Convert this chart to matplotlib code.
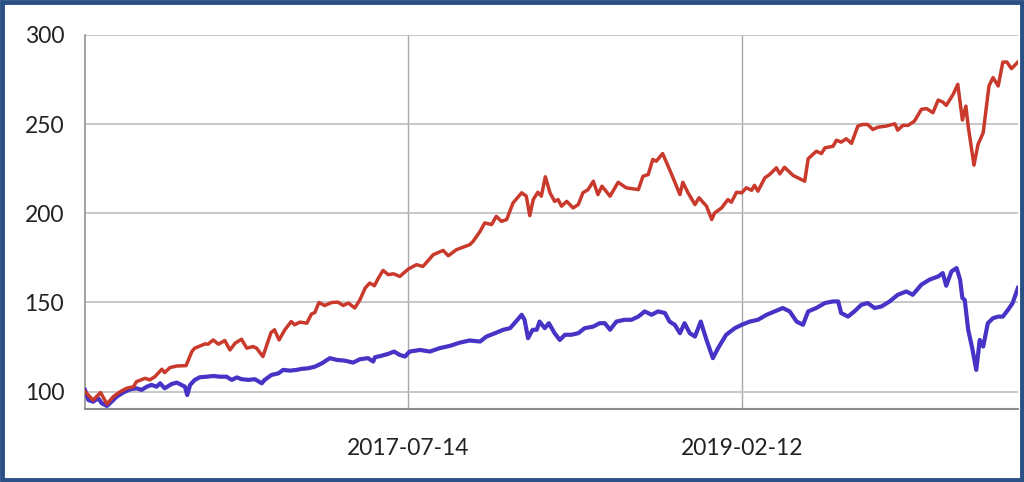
import pandas as pd
import matplotlib.pyplot as plt
import matplotlib.dates as mdates
from matplotlib.patches import Rectangle

# red series (sparser sampling)
red_dates = [
    "2016-01-02", "2016-01-16", "2016-01-29", "2016-02-09", "2016-02-20", "2016-03-03",
    "2016-03-14", "2016-03-26", "2016-03-31", "2016-04-15", "2016-04-23", "2016-05-02",
    "2016-05-14", "2016-05-19", "2016-05-28", "2016-06-09", "2016-06-25", "2016-07-05",
    "2016-07-10", "2016-07-28", "2016-08-02", "2016-08-11", "2016-08-20", "2016-08-31",
    "2016-09-09", "2016-09-18", "2016-09-29", "2016-10-08", "2016-10-19", "2016-10-25",
    "2016-11-05", "2016-11-19", "2016-11-25", "2016-12-03", "2016-12-13", "2016-12-24",
    "2016-12-30", "2017-01-08", "2017-01-20", "2017-01-28", "2017-02-03", "2017-02-10",
    "2017-02-20", "2017-03-04", "2017-03-15", "2017-03-24", "2017-04-02", "2017-04-13",
    "2017-04-22", "2017-05-01", "2017-05-09", "2017-05-17", "2017-05-24", "2017-06-01",
    "2017-06-10", "2017-06-19", "2017-06-30", "2017-07-15", "2017-07-29", "2017-08-09",
    "2017-08-27", "2017-09-13", "2017-09-22", "2017-10-06", "2017-10-29", "2017-11-04",
    "2017-11-16", "2017-11-24", "2017-12-06", "2017-12-14", "2017-12-23", "2018-01-01",
    "2018-01-12", "2018-01-27", "2018-02-04", "2018-02-10", "2018-02-16", "2018-02-24",
    "2018-03-02", "2018-03-09", "2018-03-17", "2018-03-25", "2018-03-31", "2018-04-06",
    "2018-04-15", "2018-04-26", "2018-05-05", "2018-05-13", "2018-05-22", "2018-05-31",
    "2018-06-08", "2018-06-15", "2018-06-29", "2018-07-13", "2018-07-27", "2018-08-17",
    "2018-08-25", "2018-09-03", "2018-09-11", "2018-09-17", "2018-09-28", "2018-10-10",
    "2018-10-28", "2018-11-02", "2018-11-11", "2018-11-23", "2018-11-30", "2018-12-13",
    "2018-12-22", "2018-12-27", "2019-01-08", "2019-01-19", "2019-01-25", "2019-02-03",
    "2019-02-12", "2019-02-20", "2019-03-01", "2019-03-06", "2019-03-12", "2019-03-24",
    "2019-04-01", "2019-04-13", "2019-04-19", "2019-04-27", "2019-05-12", "2019-06-01",
    "2019-06-07", "2019-06-21", "2019-06-30", "2019-07-06", "2019-07-20", "2019-07-26",
    "2019-08-03", "2019-08-12", "2019-08-21", "2019-09-01", "2019-09-09", "2019-09-18",
    "2019-09-27", "2019-10-06", "2019-10-20", "2019-11-04", "2019-11-09", "2019-11-18",
    "2019-11-27", "2019-12-08", "2019-12-20", "2019-12-29", "2020-01-09", "2020-01-18",
    "2020-01-26", "2020-02-01", "2020-02-13", "2020-02-21", "2020-02-29", "2020-03-06",
    "2020-03-10", "2020-03-20", "2020-03-27", "2020-04-05", "2020-04-15", "2020-04-22",
    "2020-05-01", "2020-05-09", "2020-05-16", "2020-05-24", "2020-06-04",
]
red_values = [
    100.0, 95.3, 99.5, 93.1, 97.2, 100.0,
    101.9, 102.8, 105.6, 107.5, 106.6, 108.4,
    112.6, 110.7, 113.5, 114.4, 114.6, 122.5,
    124.4, 126.8, 126.6, 129.0, 126.6, 128.7,
    123.4, 127.2, 129.4, 124.4, 125.3, 124.4,
    119.7, 133.1, 134.7, 129.0, 134.7, 139.3,
    137.5, 139.0, 138.4, 143.5, 144.4, 150.0,
    148.3, 150.0, 150.2, 148.3, 149.7, 146.9,
    151.5, 158.1, 160.9, 159.4, 163.7, 168.0,
    165.6, 166.1, 164.6, 168.8, 171.2, 170.2,
    176.8, 179.2, 176.2, 179.6, 182.4, 184.3,
    189.9, 194.6, 193.7, 198.3, 195.5, 196.5,
    205.8, 211.5, 209.6, 198.7, 207.7, 211.8,
    209.6, 220.5, 211.5, 206.7, 207.7, 204.0,
    206.7, 203.0, 204.9, 211.5, 213.3, 218.0,
    210.5, 215.2, 209.6, 217.4, 214.3, 213.3,
    220.8, 221.7, 230.2, 229.2, 233.5, 224.6,
    210.5, 217.4, 211.5, 204.9, 208.7, 204.0,
    196.5, 200.2, 203.0, 207.7, 206.2, 211.8,
    211.5, 214.3, 212.9, 215.7, 212.4, 219.9,
    221.7, 225.5, 222.1, 225.8, 221.2, 218.0,
    230.6, 234.8, 233.5, 236.7, 237.6, 241.0,
    239.9, 241.8, 239.2, 248.9, 249.8, 249.8,
    247.0, 248.3, 248.9, 250.2, 246.6, 249.3,
    249.3, 251.7, 258.3, 258.7, 256.4, 263.5,
    262.4, 260.5, 266.7, 272.3, 252.3, 260.1,
    248.9, 227.0, 238.6, 245.2, 271.4, 276.1,
    271.4, 284.8, 284.8, 281.1, 284.8,
]

# blue series
blue_dates = [
    "2016-01-02", "2016-01-08", "2016-01-16", "2016-01-25", "2016-01-31", "2016-02-09",
    "2016-02-17", "2016-02-26", "2016-03-08", "2016-03-20", "2016-03-31", "2016-04-09",
    "2016-04-18", "2016-04-26", "2016-05-05", "2016-05-11", "2016-05-19", "2016-05-31",
    "2016-06-09", "2016-06-17", "2016-06-23", "2016-06-27", "2016-07-02", "2016-07-10",
    "2016-07-19", "2016-07-31", "2016-08-11", "2016-08-23", "2016-09-03", "2016-09-12",
    "2016-09-21", "2016-09-29", "2016-10-11", "2016-10-22", "2016-11-03", "2016-11-08",
    "2016-11-20", "2016-12-02", "2016-12-10", "2016-12-22", "2017-01-02", "2017-01-11",
    "2017-01-22", "2017-02-03", "2017-02-15", "2017-03-01", "2017-03-13", "2017-03-27",
    "2017-04-10", "2017-04-22", "2017-05-06", "2017-05-15", "2017-05-18", "2017-05-29",
    "2017-06-10", "2017-06-20", "2017-06-30", "2017-07-09", "2017-07-17", "2017-08-04",
    "2017-08-21", "2017-09-07", "2017-09-25", "2017-10-12", "2017-10-29", "2017-11-16",
    "2017-11-27", "2017-12-12", "2017-12-26", "2018-01-07", "2018-01-17", "2018-01-27",
    "2018-02-01", "2018-02-07", "2018-02-15", "2018-02-22", "2018-02-27", "2018-03-08",
    "2018-03-15", "2018-03-25", "2018-04-03", "2018-04-12", "2018-04-23", "2018-05-05",
    "2018-05-16", "2018-05-31", "2018-06-11", "2018-06-20", "2018-06-29", "2018-07-10",
    "2018-07-24", "2018-08-05", "2018-08-17", "2018-08-28", "2018-09-09", "2018-09-20",
    "2018-10-02", "2018-10-10", "2018-10-19", "2018-10-28", "2018-11-05", "2018-11-14",
    "2018-11-23", "2018-12-03", "2018-12-13", "2018-12-24", "2019-01-02", "2019-01-16",
    "2019-01-31", "2019-02-12", "2019-02-26", "2019-03-12", "2019-03-27", "2019-04-10",
    "2019-04-24", "2019-05-06", "2019-05-18", "2019-05-29", "2019-06-07", "2019-06-21",
    "2019-07-06", "2019-07-20", "2019-07-29", "2019-08-03", "2019-08-15", "2019-08-26",
    "2019-09-07", "2019-09-18", "2019-09-30", "2019-10-12", "2019-10-26", "2019-11-09",
    "2019-11-24", "2019-12-05", "2019-12-20", "2020-01-03", "2020-01-18", "2020-01-26",
    "2020-02-01", "2020-02-10", "2020-02-19", "2020-02-25", "2020-02-29", "2020-03-04",
    "2020-03-10", "2020-03-17", "2020-03-24", "2020-03-30", "2020-04-05", "2020-04-13",
    "2020-04-22", "2020-05-01", "2020-05-09", "2020-05-18", "2020-05-26", "2020-06-04",
]
blue_values = [
    101.0, 95.3, 94.4, 96.3, 93.5, 92.0,
    94.4, 97.2, 99.5, 101.3, 101.9, 101.0,
    102.8, 103.8, 102.8, 104.7, 101.9, 104.3,
    105.1, 103.8, 102.8, 98.1, 103.8, 106.6,
    108.1, 108.4, 108.8, 108.4, 108.4, 106.6,
    108.0, 107.0, 106.6, 107.0, 104.7, 106.6,
    109.4, 110.3, 112.2, 111.8, 112.2, 112.8,
    113.1, 114.0, 115.9, 118.8, 117.8, 117.4,
    116.3, 118.2, 118.8, 116.9, 119.3, 120.1,
    121.2, 122.5, 120.6, 119.7, 122.5, 123.4,
    122.5, 124.4, 125.7, 127.5, 128.7, 128.1,
    130.9, 132.8, 134.7, 135.6, 139.3, 143.1,
    140.3, 130.0, 134.7, 134.7, 139.3, 135.6,
    138.4, 132.8, 129.0, 131.9, 131.9, 132.8,
    135.6, 136.5, 138.4, 138.4, 134.7, 139.3,
    140.3, 140.3, 142.1, 145.0, 143.1, 145.0,
    144.1, 139.3, 137.5, 132.8, 138.4, 132.8,
    130.9, 139.3, 129.0, 118.8, 124.4, 131.9,
    135.6, 137.5, 139.3, 140.3, 143.1, 145.0,
    146.9, 145.0, 139.3, 137.5, 145.0, 146.9,
    149.7, 150.6, 150.6, 144.1, 142.1, 145.0,
    148.7, 149.7, 146.9, 147.8, 150.6, 154.3,
    156.2, 154.3, 160.0, 162.8, 164.6, 166.5,
    159.4, 167.4, 169.3, 162.8, 152.5, 151.5,
    134.7, 124.4, 112.2, 129.0, 125.3, 138.4,
    141.2, 142.1, 142.1, 145.9, 149.7, 158.1,
]

y_ticks = [100, 150, 200, 250, 300]
x_ticks = ["2017-07-14", "2019-02-12"]

red_x = pd.to_datetime(red_dates)
blue_x = pd.to_datetime(blue_dates)

plt.rcParams['font.family'] = ['Lato', 'DejaVu Sans']

fig = plt.figure(figsize=(10.24, 4.82), dpi=100)
ax = fig.add_axes([0.083, 0.1515, 0.911, 0.776])

ax.plot(blue_x, blue_values, color='#4733c6', linewidth=3.0, zorder=3)
ax.plot(red_x, red_values, color='#c93a2c', linewidth=2.5, zorder=4)

ax.set_xlim(pd.Timestamp("2016-01-02"), pd.Timestamp("2020-06-04"))
ax.set_ylim(90.3, 300)
ax.set_yticks(y_ticks)
ax.set_xticks(pd.to_datetime(x_ticks))
ax.xaxis.set_major_formatter(mdates.DateFormatter('%Y-%m-%d'))

ax.grid(True, axis='y', color='#bdbdbd', linewidth=1.2)
ax.grid(True, axis='x', color='#a8a8a8', linewidth=1.0)
ax.set_axisbelow(True)
ax.tick_params(length=0, labelsize=16.5, colors='#222222')
ax.tick_params(axis='y', pad=15)
ax.tick_params(axis='x', pad=21)

for side in ['top', 'right']:
    ax.spines[side].set_visible(False)
ax.spines['left'].set_color('#9a9a9a')
ax.spines['left'].set_linewidth(1.3)
ax.spines['bottom'].set_color('#8c8c8c')
ax.spines['bottom'].set_linewidth(1.5)

# dark blue frame around the whole picture
fig.patches.append(Rectangle((0.002, 0.004), 0.996, 0.992, transform=fig.transFigure,
                             fill=False, edgecolor='#2a5086', linewidth=3.5))

fig.savefig('out.png', dpi=100)
